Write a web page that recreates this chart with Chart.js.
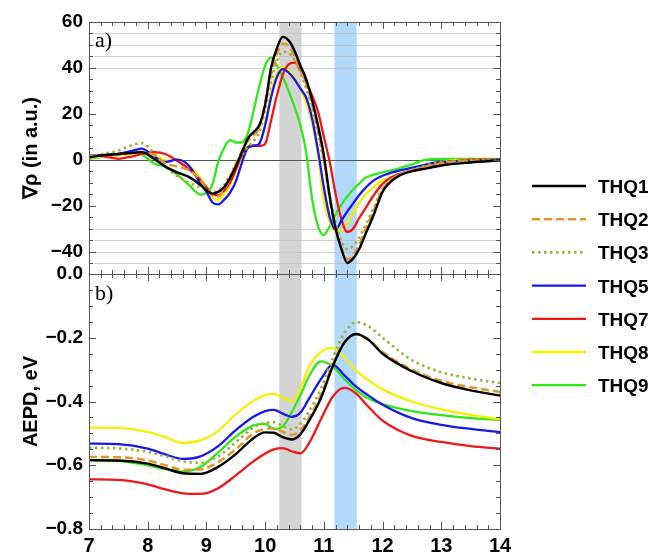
<!DOCTYPE html>
<html>
<head>
<meta charset="utf-8">
<script src="https://cdn.jsdelivr.net/npm/chart.js@4.4.1/dist/chart.umd.min.js"></script>
<style>
html, body { margin: 0; padding: 0; background: #fff; }
#wrap { position: relative; width: 651px; height: 555px; }
#legend { position: absolute; left: 0; top: 0; pointer-events: none; }
</style>
</head>
<body>
<div id="wrap">
  <canvas id="chart" width="651" height="555"></canvas>
  <svg id="legend" width="651" height="555"></svg>
</div>
<script>
// --- panel a) gradient of density ---
const xTop = [7, 7.25, 7.5, 7.75, 7.9, 8.1, 8.3, 8.5, 8.7, 8.9, 9.0, 9.1, 9.2, 9.3, 9.4, 9.5, 9.6, 9.7, 9.8, 9.9,
  10.0, 10.1, 10.2, 10.3, 10.4, 10.5, 10.6, 10.7, 10.8, 10.9, 11.0, 11.1, 11.2, 11.3, 11.4, 11.5, 11.6, 11.7, 11.85,
  12.0, 12.25, 12.5, 12.75, 13.0, 13.5, 14.0];

const gradTHQ1 = [1, 2, 2.5, 3, 3.3, 0.5, -3, -5.5, -7.5, -11, -13.3, -14.8, -14, -12, -8, -3, 3, 9, 12, 15,
  24, 40, 48.5, 53.5, 52, 47.5, 41, 35, 26, 15, 2, -16, -30, -39, -45, -43, -39, -33, -24,
  -14, -7.5, -5, -3.8, -2.5, -1.2, -0.3];
const gradTHQ2 = [1.5, 2, 2, 2.8, 3.5, 2, -1.5, -3, -4.5, -9, -12.5, -15.5, -16, -13, -8, -2, 3.5, 8, 10.5, 14,
  25, 37, 46, 50.5, 49.5, 45, 39, 33, 24, 13, 0, -17, -30, -38.5, -43.5, -41.5, -37, -31, -22,
  -13, -7, -4.5, -3, -1.5, -0.5, -0.5];
const gradTHQ3 = [1, 2.5, 4, 6.5, 7.2, 3, -3, -7, -10, -12, -13, -14, -13.5, -11, -7, -2, 2, 5.5, 8, 12,
  22, 34, 43, 47, 46.5, 43.5, 38, 31, 22, 11, -1, -16, -28, -35.5, -39, -37.5, -34, -29, -21,
  -12.5, -7, -4.5, -2.5, -1, -0.3, 0];
const gradTHQ5 = [1.5, 2, 2.5, 4, 4.8, 1.5, -1, 0, -2.5, -10.5, -14, -18.5, -19.5, -17.5, -14.5, -9.5, -1.7, 5, 6, 7,
  15, 27, 36, 39.5, 38, 35, 31, 27, 18, 4, -12, -25, -30.5, -26.5, -22.5, -19, -15.5, -12.5, -9,
  -7, -5, -3.5, -2, -1, -0.5, 0];
const gradTHQ7 = [2, 1.5, 0.4, 1.5, 2.5, 3.3, 2.5, -0.5, -4, -9, -12, -15, -15.5, -13.5, -10, -4.5, 2, 5.5, 6.2, 6,
  7, 17, 28, 37, 41.5, 42.3, 39, 34, 28, 21, 10, -1, -15, -26, -31.5, -30, -25.5, -21.5, -15.5,
  -10.5, -6.5, -5, -3.5, -1.8, 0, 0];
const gradTHQ8 = [0.7, 1.5, 2, 2.8, 3.3, 2.6, -0.3, 0, -2.5, -8, -12.5, -16.5, -17.5, -15, -11, -5, 1, 5, 6, 7,
  16, 29, 37.5, 40.3, 39, 36, 31, 25, 16, 2, -18, -27, -31.3, -30.5, -27.5, -23, -19, -15.5, -12,
  -9, -7, -5, -3, -1, 0, 0];
const gradTHQ9 = [0.4, 1.4, 2.5, 3, 2.3, -1.5, -3.2, -6.5, -11, -15.2, -14.5, -11, -1, 5, 8.5, 7.5, 7.5, 11, 21, 32,
  41, 44.5, 41, 36, 30, 23, 15, 3, -17, -29, -32.8, -29, -24, -19.5, -16, -13, -10.5, -8, -6.5,
  -5.5, -4, -2, 0, 0.3, 0.3, 0.3];

// --- panel b) AEPD, eV ---
const xBot = [7, 7.5, 8, 8.3, 8.6, 8.9, 9.2, 9.5, 9.8, 10.0, 10.15, 10.3, 10.45, 10.6, 10.75, 10.95, 11.15, 11.35,
  11.55, 11.75, 12, 12.5, 13, 13.5, 14];

const aepdTHQ1 = [-0.584, -0.585, -0.595, -0.61, -0.625, -0.627, -0.605, -0.565, -0.515, -0.497, -0.498, -0.512,
  -0.519, -0.503, -0.46, -0.39, -0.29, -0.215, -0.188, -0.205, -0.25, -0.305, -0.342, -0.365, -0.381];
const aepdTHQ2 = [-0.574, -0.575, -0.585, -0.6, -0.614, -0.613, -0.59, -0.55, -0.5, -0.486, -0.484, -0.495,
  -0.505, -0.49, -0.45, -0.38, -0.285, -0.215, -0.19, -0.205, -0.245, -0.3, -0.335, -0.355, -0.37];
const aepdTHQ3 = [-0.545, -0.547, -0.558, -0.572, -0.588, -0.592, -0.572, -0.528, -0.482, -0.467, -0.465, -0.477,
  -0.487, -0.47, -0.43, -0.36, -0.265, -0.185, -0.151, -0.163, -0.2, -0.27, -0.308, -0.328, -0.342];
const aepdTHQ5 = [-0.532, -0.534, -0.548, -0.566, -0.58, -0.572, -0.54, -0.49, -0.448, -0.43, -0.426, -0.438,
  -0.448, -0.435, -0.39, -0.33, -0.284, -0.318, -0.353, -0.38, -0.41, -0.452, -0.473, -0.486, -0.496];
const aepdTHQ7 = [-0.644, -0.646, -0.66, -0.676, -0.688, -0.69, -0.672, -0.632, -0.588, -0.563, -0.55, -0.546,
  -0.556, -0.563, -0.53, -0.456, -0.385, -0.357, -0.375, -0.415, -0.46, -0.508, -0.527, -0.54, -0.548];
const aepdTHQ8 = [-0.482, -0.483, -0.495, -0.512, -0.53, -0.522, -0.493, -0.44, -0.398, -0.38, -0.376, -0.388,
  -0.399, -0.36, -0.29, -0.245, -0.232, -0.262, -0.303, -0.332, -0.362, -0.4, -0.425, -0.442, -0.456];
const aepdTHQ9 = [-0.584, -0.586, -0.6, -0.612, -0.62, -0.605, -0.56, -0.51, -0.475, -0.47, -0.486, -0.478,
  -0.435, -0.38, -0.32, -0.274, -0.29, -0.33, -0.364, -0.39, -0.408, -0.43, -0.443, -0.452, -0.458];

// tick labels and highlighted ranges
const gradTicks = [-40, -20, 0, 20, 40, 60];
const aepdTicks = [-0.8, -0.6, -0.4, -0.2, 0];
const xTicks = [7, 8, 9, 10, 11, 12, 13, 14];
const grayBand = [10.24, 10.62];
const blueBand = [11.18, 11.56];
const gradGridLines = [40, 45, 50, 55, -30, -35, -40, -45];

// styles
const seriesNames = ['THQ1', 'THQ2', 'THQ3', 'THQ5', 'THQ7', 'THQ8', 'THQ9'];
const seriesColors = ['#000000', '#e0962c', '#9db23c', '#1818ee', '#f01616', '#f7ee00', '#2ee818'];
const seriesDash = [[], [8, 4], [2.5, 3.5], [], [], [], []];
const seriesWidth = [2.4, 2.5, 2.7, 2.3, 2.3, 2.3, 2.3];

const gradSeries = [gradTHQ1, gradTHQ2, gradTHQ3, gradTHQ5, gradTHQ7, gradTHQ8, gradTHQ9];
const aepdSeries = [aepdTHQ1, aepdTHQ2, aepdTHQ3, aepdTHQ5, aepdTHQ7, aepdTHQ8, aepdTHQ9];

Chart.defaults.font.family = '"Liberation Sans", Arial, sans-serif';
Chart.defaults.color = '#000';

function minus(v, digits) {
  const s = digits ? Math.abs(v).toFixed(digits) : String(Math.abs(v));
  return v < 0 ? '\u2212' + s : s;
}

const datasets = [];
seriesNames.forEach((name, i) => {
  const style = {
    borderColor: seriesColors[i],
    borderWidth: seriesWidth[i],
    borderDash: seriesDash[i],
    pointRadius: 0,
    fill: false,
    cubicInterpolationMode: 'monotone'
  };
  datasets.push(Object.assign({
    label: name,
    yAxisID: 'yTop',
    data: xTop.map((x, k) => ({ x: x, y: gradSeries[i][k] }))
  }, style));
  datasets.push(Object.assign({
    label: name + ' AEPD',
    yAxisID: 'yBot',
    data: xBot.map((x, k) => ({ x: x, y: aepdSeries[i][k] }))
  }, style));
});

function line(ctx, x0, y0, x1, y1) {
  ctx.beginPath();
  ctx.moveTo(x0, y0);
  ctx.lineTo(x1, y1);
  ctx.stroke();
}

// frame with inward ticks, like the original plot
function drawPanelFrame(ctx, xs, ys, minorStep, majorStep) {
  const L = xs.left, R = xs.right, T = ys.top, B = ys.bottom;
  ctx.strokeStyle = '#555';
  ctx.lineWidth = 1;
  ctx.strokeRect(Math.round(L) + 0.5, Math.round(T) + 0.5, Math.round(R - L), Math.round(B - T));
  for (let k = 0; k <= 35; k++) {
    const px = Math.round(xs.getPixelForValue(7 + k * 0.2)) + 0.5;
    const len = k % 5 === 0 ? 7 : 4;
    line(ctx, px, T, px, T + len);
    line(ctx, px, B, px, B - len);
  }
  const n = Math.round((ys.max - ys.min) / minorStep) + 1;
  const start = Math.ceil(ys.min / minorStep - 1e-6) * minorStep;
  for (let k = 0; k < n; k++) {
    const v = start + k * minorStep;
    if (v > ys.max + 1e-9) break;
    const r = v / majorStep;
    const major = Math.abs(r - Math.round(r)) < 1e-6;
    const py = Math.round(ys.getPixelForValue(v)) + 0.5;
    const len = major ? 7 : 4;
    line(ctx, L, py, L + len, py);
    line(ctx, R, py, R - len, py);
  }
}

const panelPlugin = {
  id: 'panels',
  beforeDatasetsDraw(chart) {
    const ctx = chart.ctx;
    const xs = chart.scales.x, yT = chart.scales.yTop, yB = chart.scales.yBot;
    ctx.save();
    [[grayBand, '#d4d4d4'], [blueBand, '#b2d8fa']].forEach(([band, color]) => {
      const x0 = xs.getPixelForValue(band[0]);
      const x1 = xs.getPixelForValue(band[1]);
      ctx.fillStyle = color;
      ctx.fillRect(x0, yT.top, x1 - x0, yB.bottom - yT.top);
    });
    ctx.strokeStyle = 'rgba(190,190,190,0.7)';
    ctx.lineWidth = 1;
    gradGridLines.forEach(v => {
      const py = Math.round(yT.getPixelForValue(v)) + 0.5;
      line(ctx, xs.left, py, xs.right, py);
    });
    ctx.strokeStyle = '#555';
    const py0 = Math.round(yT.getPixelForValue(0)) + 0.5;
    line(ctx, xs.left, py0, xs.right, py0);
    ctx.restore();
  },
  afterDatasetsDraw(chart) {
    const ctx = chart.ctx;
    const xs = chart.scales.x, yT = chart.scales.yTop, yB = chart.scales.yBot;
    ctx.save();
    drawPanelFrame(ctx, xs, yT, 5, 20);
    drawPanelFrame(ctx, xs, yB, 0.05, 0.2);
    ctx.fillStyle = '#000';
    ctx.font = '22px "Liberation Serif", "Times New Roman", serif';
    ctx.textBaseline = 'alphabetic';
    ctx.fillText('a)', xs.left + 6, yT.top + 25);
    ctx.fillText('b)', xs.left + 6, yB.top + 26);
    ctx.restore();
  }
};

new Chart(document.getElementById('chart'), {
  type: 'line',
  data: { datasets: datasets },
  plugins: [panelPlugin],
  options: {
    responsive: false,
    animation: false,
    devicePixelRatio: 1,
    layout: { padding: { top: 22, right: 151, left: 0, bottom: 0 } },
    plugins: { legend: { display: false }, tooltip: { enabled: false } },
    scales: {
      x: {
        type: 'linear', min: 7, max: 14, position: 'bottom',
        grid: { display: false, drawTicks: false },
        border: { display: false },
        afterBuildTicks(s) { s.ticks = xTicks.map(v => ({ value: v })); },
        ticks: { font: { size: 20, weight: 'bold' }, padding: 5, maxRotation: 0, autoSkip: false },
        afterFit(s) { s.height = 26; }
      },
      // stacked axes are placed bottom-up in the order they are listed
      yBot: {
        type: 'linear', position: 'left', stack: 'panels', stackWeight: 255,
        min: -0.8, max: 0,
        grid: { display: false, drawTicks: false },
        border: { display: false },
        afterBuildTicks(s) { s.ticks = aepdTicks.map(v => ({ value: v })); },
        ticks: { font: { size: 19, weight: 'bold' }, padding: 6, callback: v => minus(v, 1) },
        title: { display: true, text: 'AEPD, eV', font: { size: 20, weight: 'bold' }, padding: { top: 19, bottom: 0 } },
        afterFit(s) { s.width = 89; }
      },
      yTop: {
        type: 'linear', position: 'left', stack: 'panels', stackWeight: 252,
        min: -49.8, max: 60,
        grid: { display: false, drawTicks: false },
        border: { display: false },
        afterBuildTicks(s) { s.ticks = gradTicks.map(v => ({ value: v })); },
        ticks: { font: { size: 19, weight: 'bold' }, padding: 6, callback: v => minus(v) },
        title: { display: true, text: '\u2207\u03c1 (in a.u.)', font: { size: 20, weight: 'bold' }, padding: { top: 19, bottom: 0 } },
        afterFit(s) { s.width = 89; }
      }
    }
  }
});

// legend on the right, same order as the original
const svg = document.getElementById('legend');
const NS = 'http://www.w3.org/2000/svg';
seriesNames.forEach((name, i) => {
  const y = 186 + i * 33.2;
  const ln = document.createElementNS(NS, 'line');
  ln.setAttribute('x1', 532); ln.setAttribute('x2', 586);
  ln.setAttribute('y1', y); ln.setAttribute('y2', y);
  ln.setAttribute('stroke', seriesColors[i]);
  ln.setAttribute('stroke-width', seriesWidth[i]);
  if (seriesDash[i].length) ln.setAttribute('stroke-dasharray', seriesDash[i].join(' '));
  svg.appendChild(ln);
  const tx = document.createElementNS(NS, 'text');
  tx.setAttribute('x', 598); tx.setAttribute('y', y + 7);
  tx.setAttribute('font-family', 'Liberation Sans, Arial, sans-serif');
  tx.setAttribute('font-weight', 'bold');
  tx.setAttribute('font-size', '19');
  tx.textContent = name;
  svg.appendChild(tx);
});
</script>
</body>
</html>
